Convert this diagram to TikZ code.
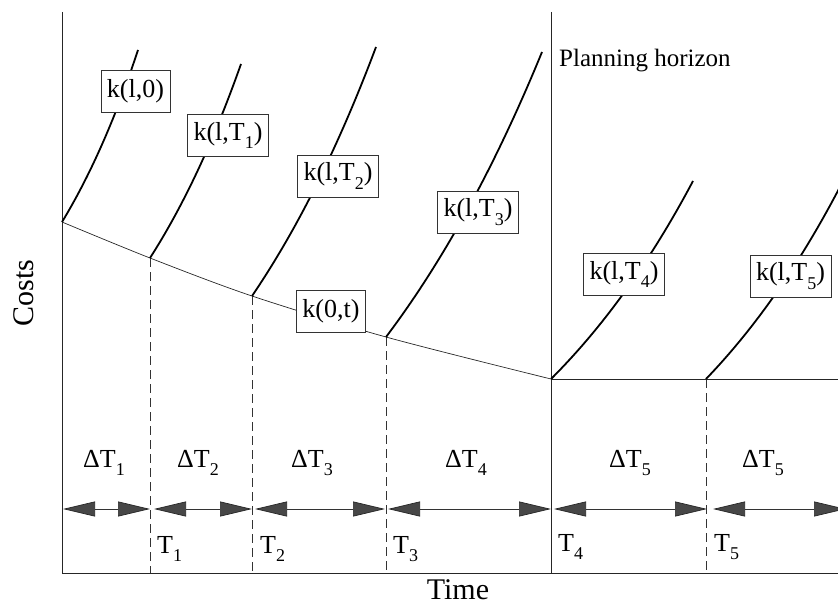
\documentclass[tikz,border=0pt]{standalone}
\usepackage{fontspec}
\setmainfont{Liberation Serif}
\usetikzlibrary{arrows.meta,calc}
\newcommand\mysub[1]{\raisebox{-0.32em}{\fontsize{18}{18}\selectfont #1}}
\begin{document}
\begin{tikzpicture}[x=1pt,y=-1pt,
  axis/.style={line width=0.8pt,draw=black!85},
  dashv/.style={line width=0.7pt,draw=black!80,dash pattern=on 9pt off 5pt},
  kcurve/.style={line width=1.8pt,draw=black},
  base/.style={line width=0.7pt,draw=black!85},
  lbl/.style={draw=black!80,line width=0.6pt,fill=white,font=\fontsize{26}{28}\selectfont,inner xsep=6pt,inner ysep=0pt,minimum height=42pt},
  seg/.style={line width=0.7pt,draw=black!80,{Triangle[length=32pt,width=15pt,fill=black!72,color=black!85]}-{Triangle[length=32pt,width=15pt,fill=black!72,color=black!85]}},
  dlbl/.style={font=\fontsize{26}{28}\selectfont,anchor=base,inner sep=0pt},
  tlbl/.style={font=\fontsize{26}{28}\selectfont,anchor=base west,inner sep=0pt},
  big/.style={font=\fontsize{30}{32}\selectfont,anchor=base,inner sep=0pt},
]
\useasboundingbox (0,0) rectangle (838,604);
\clip (0,0) rectangle (838,604);

% key points
\coordinate (ytop) at (62,12);
\coordinate (o) at (62,573);
\coordinate (xr) at (838,573);
\coordinate (phtop) at (551,12);
\coordinate (s0) at (62,222);
\coordinate (s1) at (150,258);
\coordinate (s2) at (252,296);
\coordinate (s3) at (386,337);
\coordinate (s4) at (551,379);
\coordinate (s5) at (706,379);
\coordinate (hr) at (838,379);
\coordinate (e0) at (138,50);
\coordinate (e1) at (241,64);
\coordinate (e2) at (376,47);
\coordinate (e3) at (542,52);
\coordinate (e4) at (693,181);
\coordinate (e5) at (842,183);
\coordinate (c0) at (104,153);
\coordinate (c1) at (200,180);
\coordinate (c2) at (320,196);
\coordinate (c3) at (472,223);
\coordinate (c4) at (630,300);
\coordinate (c5) at (781,301);

% axes and planning horizon
\draw[axis] (ytop) -- (o) -- (xr);
\draw[axis] (phtop) -- (phtop |- o);

% dashed verticals
\foreach \p in {s1,s2,s3,s5} \draw[dashv] (\p) -- (\p |- o);

% k(0,t)
\draw[base] plot[smooth,tension=0.5] coordinates {(s0) (s1) (s2) (s3) (s4)};
\draw[base] (s4) -- (hr);

% k(l,T) curves
\foreach \i in {0,...,5}
  \draw[kcurve] (s\i) .. controls ($(s\i)!2/3!(c\i)$) and ($(e\i)!2/3!(c\i)$) .. (e\i);

% labels on curves
\node[lbl] (k0) at (135.5,91) {k(l,0)};
\node[lbl] (k1) at (228,135.5) {k(l,T\mysub{1})};
\node[lbl] (k2) at (338,176) {k(l,T\mysub{2})};
\node[lbl] (k3) at (478,212) {k(l,T\mysub{3})};
\node[lbl] (kt) at (331,311) {k(0,t)};
\node[lbl] (k4) at (624,274.5) {k(l,T\mysub{4})};
\node[lbl] (k5) at (790.5,276) {k(l,T\mysub{5})};

% double arrows
\coordinate (a0) at (63,509);  \coordinate (b0) at (150,509);
\coordinate (a1) at (154,509); \coordinate (b1) at (252,509);
\coordinate (a2) at (255,509); \coordinate (b2) at (385,509);
\coordinate (a3) at (388,509); \coordinate (b3) at (551,509);
\coordinate (a4) at (554,509); \coordinate (b4) at (707,509);
\coordinate (a5) at (713,509); \coordinate (b5) at (846,509);
\foreach \i in {0,...,5} \draw[seg] (a\i) -- (b\i);

% interval labels
\node[dlbl] (d1) at (104,467) {ΔT\mysub{1}};
\node[dlbl] (d2) at (198,467) {ΔT\mysub{2}};
\node[dlbl] (d3) at (312,467) {ΔT\mysub{3}};
\node[dlbl] (d4) at (466,467) {ΔT\mysub{4}};
\node[dlbl] (d5) at (630,467) {ΔT\mysub{5}};
\node[dlbl] (d6) at (763,467) {ΔT\mysub{5}};

% time point labels
\node[tlbl] (t1) at (157,553) {T\mysub{1}};
\node[tlbl] (t2) at (260,553) {T\mysub{2}};
\node[tlbl] (t3) at (393,553) {T\mysub{3}};
\node[tlbl] (t4) at (558,551) {T\mysub{4}};
\node[tlbl] (t5) at (714,551) {T\mysub{5}};

% titles
\node[font=\fontsize{25}{27}\selectfont,anchor=base west,inner sep=0pt] (ph) at (559,67) {Planning horizon};
\node[big] (time) at (458,599) {Time};
\node[big,rotate=90] (costs) at (33,293) {Costs};
\end{tikzpicture}
\end{document}
